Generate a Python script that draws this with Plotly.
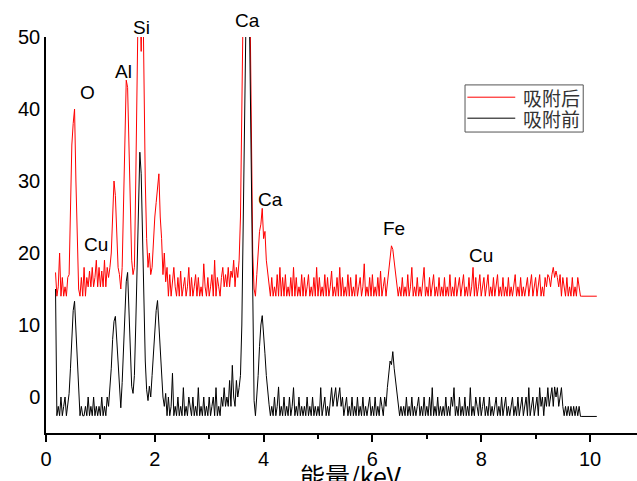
import plotly.graph_objects as go

# Energy channel grid (keV): first channel and channel width
E_START = 0.175
E_STEP = 0.025

# Spectrum before adsorption (吸附前), plotted values, one per channel
before_counts = [
    15,
    -2.6, -1.3, -2.6, 0, -2.6, -1.3, 0, -2.6,
    -1.3, 0.5, 4, 8, 12, 13.3, 9, 4,
    0, -2.6, -1.3, -2.6, -2.6, -1.3, -2.6, 0,
    -2.6, -1.3, -2.6, 0, -2.6, -1.3, -2.6, -1.3,
    -2.6, 0, -2.6, -1.3, -2.6, 0, -1.3, 1,
    4, 8, 10.5, 11.2, 8, 3.5, 1.5, -1.5,
    2, 7, 12, 16, 17.3, 12, 6, 1.5,
    0.5, 3, 10, 18, 28, 34, 31, 22,
    12, 5, 1, -0.5, 1.5, 0, 3, 6,
    10, 12, 13.4, 10, 7, 3, 0, -1.3,
    0.5, -2.6, 0, -2.6, -1.3, 3.3, -2.6, -1.3,
    -2.6, 0, -2.6, -1.3, -2.6, 1.3, -2.6, -1.3,
    -2.6, 0, -1.3, -2.6, 0, -2.6, -1.3, -2.6,
    1.3, -2.6, -1.3, -2.6, 0, -2.6, -1.3, -2.6,
    0, -2.6, -1.3, 0, -2.6, 1.3, -2.6, -1.3,
    -2.6, 0, -1.3, 1.3, -1.3, 0, -1.3, 2.3,
    -1.3, 4.4, 0, -1.3, 2.3, 0, 1.3, 3,
    10, 25, 42, 58, 66, 62, 45, 25,
    8, -0.5, -2.6, 0, 3, 7, 10, 11.3,
    9, 6, 3, 0.5, -1, -2.6, -1.3, -2.6,
    0, -2.6, -1.3, 1.4, -2.6, -1.3, -2.6, 0,
    -2.6, -1.3, -2.6, 0, -2.6, -1.3, 1.3, -2.6,
    -1.3, -2.6, 0, -2.6, -1.3, -2.6, -1.3, -2.6,
    0, -2.6, -1.3, -2.6, 0, -2.6, -1.3, -2.6,
    -1.3, -2.6, 1.3, -2.6, -1.3, 0, -2.6, -1.3,
    -2.6, 0, 1.3, -1.3, 0, 1.3, -1.3, 0,
    1.3, -1.3, 0, -2.6, -1.3, 0, -2.6, -1.3,
    -2.6, 0, -2.6, -1.3, -2.6, 0, -2.6, -1.3,
    -2.6, 0, -2.6, -1.3, -2.6, -1.3, 0, -2.6,
    -1.3, -2.6, 0, -2.6, -1.3, -2.6, 0, -1.3,
    -2.6, 0, -1.3, 1.3, 3, 5, 4.5, 6.3,
    4, 2.5, 1, -1.3, -2.6, -1.3, -2.6, -1.3,
    -2.6, 0, -2.6, -1.3, -2.6, 0, -2.6, -1.3,
    -2.6, -1.3, 0, -2.6, -1.3, -2.6, 0, -2.6,
    -1.3, -2.6, 0, -2.6, 1.3, -2.6, -1.3, -2.6,
    0, -2.6, -1.3, -2.6, -1.3, -2.6, 0, -2.6,
    -1.3, -2.6, 0, -1.3, 1.3, -2.6, -1.3, -2.6,
    0, -2.6, -1.3, -2.6, 0, -2.6, -1.3, -2.6,
    1.3, -2.6, -1.3, -2.6, 0, -1.3, -2.6, 0,
    -2.6, -1.3, 0, -2.6, -1.3, -2.6, 0, -2.6,
    -1.3, -2.6, -1.3, 0, -2.6, -1.3, -2.6, 0,
    -2.6, -1.3, 0, -2.6, -1.3, -2.6, -1.3, 0,
    -2.6, -1.3, -2.6, 0, -2.6, -1.3, 0, -2.6,
    -1.3, 0, -2.6, 1.3, -2.6, -1.3, 0, -2.6,
    -1.3, 0, -2.6, 1.3, -1.3, 0, -2.6, 0,
    -1.3, 1.3, -1.3, 0, 1.3, -1.3, 1.4, 0,
    1.3, -1.3, 0, 1.3, -1.3, -2.6, -1.3, -2.6,
    -1.3, -2.6, -1.3, -2.6, -1.3, -2.6, -1.3, -2.6,
    -1.3, -2.7, -2.7, -2.7, -2.7, -2.7, -2.7, -2.7,
    -2.7, -2.7, -2.7, -2.7, -2.7, -2.7,
]

# Spectrum after adsorption (吸附后)
after_counts = [
    17.3,
    14, 15.3, 20, 14, 16.6, 14, 15.3, 14,
    16.6, 17, 25, 35, 38, 40, 30, 20,
    15, 14, 16.6, 14, 18, 14, 16.6, 15.3,
    17.5, 15.3, 18, 15.3, 16.6, 19, 15.3, 18,
    15.3, 17.5, 15.3, 19, 15.3, 18, 16.6, 18,
    20, 25, 30, 28, 22, 18, 17, 15,
    18, 28, 38, 44, 43, 35, 25, 19,
    17, 18, 30, 45, 58, 55, 48, 60,
    41, 30, 22, 18, 20, 17, 18, 22,
    25, 27, 29, 31, 25, 22, 17, 20,
    16, 18, 14, 17, 14, 16.6, 18, 15.3,
    14, 16.6, 14, 17.5, 14, 15.3, 16.6, 14,
    15.3, 18, 14, 16.6, 14, 15.3, 17, 14,
    16.6, 14, 15.3, 14, 18.5, 15.3, 14, 16.6,
    14, 15.3, 17, 14, 19, 14, 16.6, 15.3,
    14, 16.6, 18, 15.3, 17, 15.3, 18, 15.3,
    17.5, 16.6, 19, 15.3, 18, 16.6, 19, 25,
    40, 58, 70, 65, 60, 62, 55, 35,
    20, 15, 14, 17, 20, 23, 24, 26.2,
    22, 23, 19, 17, 15.3, 14, 16.6, 14,
    15.3, 14, 17, 14, 18, 14, 16.6, 14,
    17, 14, 15.3, 14, 16.6, 14, 18, 14,
    16.6, 14, 15.3, 14, 17, 14, 16.6, 14,
    15.3, 17, 14, 15.3, 14, 16.6, 14, 18,
    14, 16.6, 14, 15.3, 14, 17, 14, 16.6,
    14, 15.3, 17.5, 14, 15.3, 14, 16.6, 14,
    18, 14, 16.6, 14, 15.3, 14, 17, 14,
    16.6, 14, 15.3, 14, 17, 14, 15.3, 16.6,
    14, 15.3, 18.5, 14, 15.3, 14, 16.6, 14,
    17, 14, 15.3, 14, 16.6, 14, 17.5, 14,
    15.3, 16.6, 14, 16, 18, 20, 21, 20.5,
    19, 17, 15.3, 14, 15.3, 14, 16.6, 14,
    15.3, 14, 17, 14, 15.3, 18, 14, 15.3,
    14, 16.6, 14, 15.3, 14, 16.6, 18, 14,
    15.3, 14, 16.6, 14, 15.3, 17, 14, 15.3,
    14, 16.6, 14, 15.3, 14, 16.6, 14, 15.3,
    14, 17, 14, 15.3, 14, 16.6, 14, 15.3,
    16.6, 14, 15.3, 17, 14, 15.3, 14, 16.6,
    14, 15.3, 18, 14, 16.6, 14, 15.3, 17,
    14, 15.3, 16.6, 14, 15.3, 17, 14, 15.3,
    14, 16.6, 14, 15.3, 17, 14, 15.3, 14,
    16.6, 14, 15.3, 14, 16.6, 14, 15.3, 14,
    15.3, 17, 14, 15.3, 14, 16.6, 14, 15.3,
    14, 15.3, 16.6, 14, 15.3, 17, 14, 15.3,
    16.6, 14, 15.3, 17, 14, 15.3, 14, 16.6,
    15.3, 17, 16.6, 15.3, 17, 18, 16.6, 17.5,
    16.6, 15.3, 17, 14, 16.6, 15.3, 14, 16.6,
    14, 15.3, 14, 16.6, 14, 15.3, 14, 16.6,
    15.3, 14, 14, 14, 14, 14, 14, 14,
    14, 14, 14, 14, 14, 14,
]

series_names = ["吸附后", "吸附前"]
series_colors = ["#ff0000", "#000000"]

# Element peak labels (x in keV; y in data units, or paper units when above the axes)
peak_labels = ["O", "Al", "Si", "Ca", "Ca", "Cu", "Fe", "Cu"]
peak_label_x = [0.76, 1.43, 1.76, 3.71, 4.12, 0.92, 6.40, 7.99]
peak_label_y = [42.3, 45.2, 1.025, 1.042, 27.4, 21.2, 23.4, 19.6]
peak_label_yref = ["y", "y", "paper", "paper", "y", "y", "y", "y"]

x_ticks = [0, 2, 4, 6, 8, 10]
y_ticks = [0, 10, 20, 30, 40, 50]


def energies(n):
    return [round(E_START + E_STEP * i, 4) for i in range(n)]


fig = go.Figure()
for name, color, vals in zip(series_names, series_colors, [after_counts, before_counts]):
    fig.add_trace(go.Scatter(
        x=energies(len(vals)), y=vals, mode="lines", name=name,
        line=dict(color=color, width=1), showlegend=False,
    ))

for txt, lx, ly, yr in zip(peak_labels, peak_label_x, peak_label_y, peak_label_yref):
    fig.add_annotation(x=lx, y=ly, xref="x", yref=yr, text=txt, showarrow=False,
                       xanchor="center", yanchor="middle",
                       font=dict(family="Liberation Sans, Arial", size=19, color="black"))

# x-axis title
fig.add_annotation(text="能量/keV", xref="paper", yref="paper", x=0.516, y=-0.056,
                   xanchor="center", yanchor="top", showarrow=False,
                   font=dict(family="Noto Sans CJK SC, Liberation Sans", size=25, color="black"))

# Legend box drawn in paper coordinates
LEG_X0, LEG_X1, LEG_Y0, LEG_Y1 = 0.709, 0.909, 0.760, 0.879
LEG_ROWS_Y = [0.848, 0.795]
fig.add_shape(type="rect", xref="paper", yref="paper", x0=LEG_X0, x1=LEG_X1, y0=LEG_Y0, y1=LEG_Y1,
              line=dict(color="#555555", width=1), fillcolor="white", layer="above")
for name, color, ry in zip(series_names, series_colors, LEG_ROWS_Y):
    fig.add_shape(type="line", xref="paper", yref="paper", x0=0.713, x1=0.794, y0=ry, y1=ry,
                  line=dict(color=color, width=1), layer="above")
    fig.add_annotation(text=name, xref="paper", yref="paper", x=0.803, y=ry,
                       xanchor="left", yanchor="middle", showarrow=False,
                       font=dict(family="Noto Sans CJK SC", size=19, color="#333333"))

fig.update_layout(
    width=637, height=481,
    margin=dict(l=46, r=0, t=37, b=48),
    paper_bgcolor="white", plot_bgcolor="white",
    showlegend=False,
    font=dict(family="Liberation Sans, Arial", size=20, color="black"),
)
fig.update_xaxes(range=[0, 10.864], showline=True, linecolor="black", linewidth=1.5,
                 ticks="outside", ticklen=7, tickwidth=1.5, tickcolor="black",
                 tickvals=x_ticks, showgrid=False, zeroline=False,
                 minor=dict(dtick=1, ticks="outside", ticklen=4, tickwidth=1.5, tickcolor="black"),
                 tickfont=dict(size=20))
fig.update_yaxes(range=[-5, 50], showline=True, linecolor="black", linewidth=1.5,
                 ticks="", tickvals=y_ticks, showgrid=False, zeroline=False,
                 tickfont=dict(size=20))

fig.write_html("out.html", config={"displayModeBar": False},
               post_script="document.body.style.margin='0';")
